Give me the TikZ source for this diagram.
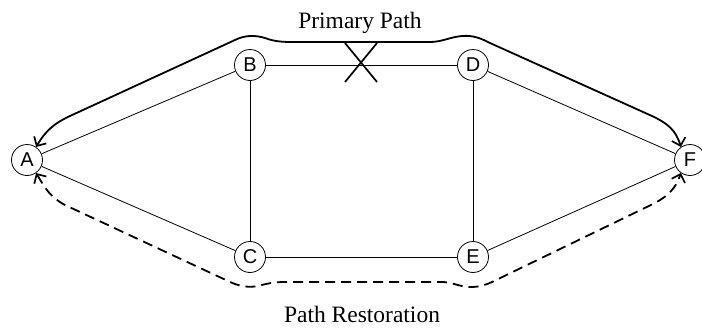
\documentclass[tikz,border=0pt]{standalone}
\usepackage{fontspec}
\setmainfont{Liberation Serif}
\newfontfamily\nodefont{Liberation Sans}
\usetikzlibrary{arrows.meta}
\begin{document}
\begin{tikzpicture}[x=1pt,y=-1pt,
  vert/.style={circle,draw,line width=0.8pt,minimum size=31pt,inner sep=0pt,font=\nodefont\fontsize{20}{20}\selectfont},
  edge/.style={line width=0.8pt},
  prim/.style={line width=1.8pt,{Straight Barb[length=7pt,width=14pt,line width=1.7pt]}-{Straight Barb[length=7pt,width=14pt,line width=1.7pt]}},
  rest/.style={line width=1.8pt,dash pattern=on 10pt off 6pt,{Straight Barb[length=7pt,width=14pt,line width=1.7pt]}-{Straight Barb[length=7pt,width=14pt,line width=1.7pt]}},
  lbl/.style={font=\fontsize{23.5}{23.5}\selectfont,anchor=base,inner sep=0pt}]
\useasboundingbox (0,0) rectangle (702,327);
\clip (0,0) rectangle (702,327);
\node[vert] (A) at (27,160) {A};
\node[vert] (B) at (250,65) {B};
\node[vert] (C) at (250,257) {C};
\node[vert] (D) at (473,65) {D};
\node[vert] (E) at (473,257) {E};
\node[vert] (F) at (690,160) {F};
\draw[edge] (A) -- (B);
\draw[edge] (A) -- (C);
\draw[edge] (B) -- (D);
\draw[edge] (B) -- (C);
\draw[edge] (D) -- (E);
\draw[edge] (C) -- (E);
\draw[edge] (D) -- (F);
\draw[edge] (E) -- (F);
\draw[prim] (A.55) .. controls (46,130) and (55,123) .. (70,116) -- (235,40)
  .. controls (245,35) and (255,35) .. (265,38) .. controls (273,41) and (280,42) .. (292,42)
  -- (430,42) .. controls (442,42) and (450,37) .. (462,36) .. controls (474,35) and (482,39) .. (490,43)
  -- (652,116) .. controls (667,123) and (676,130) .. (F.125);
\draw[rest] (A.-55) .. controls (45,188) and (50,197) .. (65,205) -- (228,281)
  .. controls (238,286) and (248,288) .. (258,286) .. controls (266,284) and (272,282) .. (285,282)
  -- (442,282) .. controls (452,282) and (460,287) .. (470,287) .. controls (480,287) and (485,285) .. (492,282)
  -- (655,203) .. controls (668,196) and (676,188) .. (F.-125);
\coordinate (X) at (361,62);
\draw[line width=1.7pt] ([shift={(-16,-19)}]X) -- ([shift={(16,20)}]X);
\draw[line width=1.7pt] ([shift={(16,-19)}]X) -- ([shift={(-16,20)}]X);
\node[lbl] (pp) at (360,28) {Primary Path};
\node[lbl] (pr) at (362,322) {Path Restoration};
\end{tikzpicture}
\end{document}
